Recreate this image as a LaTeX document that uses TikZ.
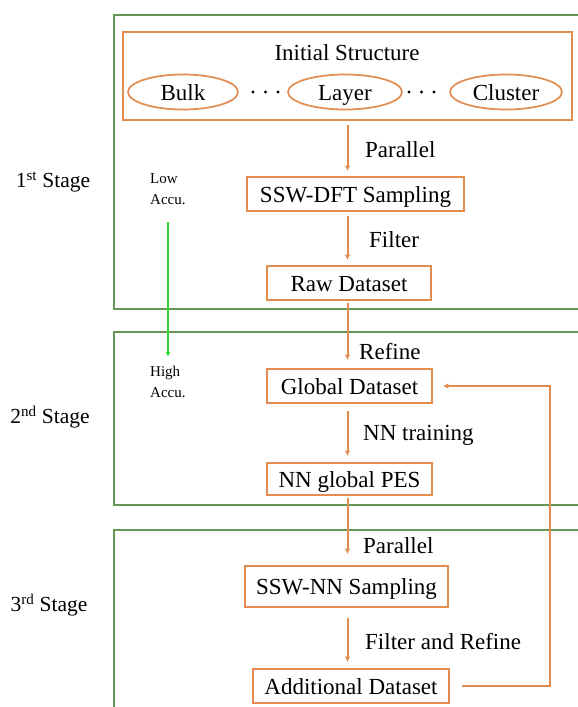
\documentclass[tikz,border=0pt]{standalone}
\usepackage{fontspec}
\setmainfont{Liberation Serif}
\usetikzlibrary{shapes.geometric,arrows.meta}
\definecolor{ocol}{RGB}{226,140,80}
\definecolor{gframe}{RGB}{104,150,84}
\definecolor{garrow}{RGB}{50,215,50}
\tikzset{
  obox/.style={draw=ocol, line width=1.7pt, inner sep=0pt, text height=16pt, text depth=0pt,
    font=\fontsize{23}{27}\selectfont},
  oell/.style={obox, ellipse, minimum height=35pt},
  oarr/.style={draw=ocol, line width=2pt, -{Latex[length=5.5pt,width=5.5pt]}, shorten <=4pt, shorten >=5pt},
  flabel/.style={anchor=base west, inner sep=0pt, font=\fontsize{23}{27}\selectfont},
  stagelbl/.style={inner sep=0pt, font=\fontsize{21.5}{26}\selectfont},
  accu/.style={inner sep=0pt, align=left, font=\fontsize{15}{21}\selectfont},
  gframe/.style={draw=gframe, line width=2pt},
  dots/.style={fill=black, circle, inner sep=0pt, minimum size=3.2pt}
}
\begin{document}
\begin{tikzpicture}[x=1pt,y=-1pt]
\useasboundingbox (0,0) rectangle (578,707);
\clip (0,0) rectangle (578,707);
\fill[white] (0,0) rectangle (578,707);

% stage frames
\draw[gframe] (114,15) rectangle (600,309);
\draw[gframe] (114,332) rectangle (600,505);
\draw[gframe] (114,530) rectangle (600,730);

% stage labels
\node[stagelbl] (s1) at (53,182) {1\textsuperscript{st} Stage};
\node[stagelbl] (s2) at (50,417) {2\textsuperscript{nd} Stage};
\node[stagelbl] (s3) at (49,605) {3\textsuperscript{rd} Stage};

% initial structure
\node[obox, minimum width=449pt, minimum height=88pt] (init) at (347.5,76) {};
\node[flabel, anchor=base] (inittitle) at (347,60) {Initial Structure};
\node[oell, minimum width=110pt] (bulk) at (183,92) {Bulk};
\node[oell, minimum width=114pt] (layer) at (345,92) {Layer};
\node[oell, minimum width=112pt] (cluster) at (506,92) {Cluster};
\foreach \dx/\nm in {253/d1,265.5/d2,278/d3,409/d4,421.5/d5,434/d6}
  \node[dots] (\nm) at (\dx,92) {};

% boxes
\node[obox, minimum width=217pt, minimum height=34pt] (sswd) at (355.5,194) {SSW-DFT Sampling};
\node[obox, minimum width=164pt, minimum height=34pt] (raw) at (349,283) {Raw Dataset};
\node[obox, minimum width=165pt, minimum height=34pt] (glob) at (349.5,386) {Global Dataset};
\node[obox, minimum width=165pt, minimum height=32pt] (pes) at (349.5,479) {NN global PES};
\node[obox, minimum width=203pt, minimum height=41pt] (sswn) at (346.5,586.5) {SSW-NN Sampling};
\node[obox, minimum width=196pt, minimum height=34pt] (add) at (351,686) {Additional Dataset};

% spine
\coordinate (spine) at (347.5,0);
\coordinate (fb) at (550,0);

\draw[oarr] (init.south -| spine) -- (sswd.north -| spine);
\draw[oarr] (sswd.south -| spine) -- (raw.north -| spine);
\draw[oarr, shorten <=2pt, shorten >=8pt] (raw.south -| spine) -- (glob.north -| spine);
\draw[oarr, shorten <=7pt, shorten >=6pt] (glob.south -| spine) -- (pes.north -| spine);
\draw[oarr, shorten <=2pt, shorten >=11pt] (pes.south -| spine) -- (sswn.north -| spine);
\draw[oarr, shorten <=10pt, shorten >=6pt] (sswn.south -| spine) -- (add.north -| spine);
\draw[oarr, shorten <=12pt, shorten >=10pt] (add.east) -| (fb |- glob.east) -- (glob.east);

% arrow labels
\node[flabel] (l1) at (365,157) {Parallel};
\node[flabel] (l2) at (369,247) {Filter};
\node[flabel] (l3) at (359,359) {Refine};
\node[flabel] (l4) at (363,440) {NN training};
\node[flabel] (l5) at (363,553) {Parallel};
\node[flabel] (l6) at (365,649) {Filter and Refine};

% accuracy
\node[accu, anchor=north west] (low) at (150,173) {Low\\Accu.};
\node[accu, anchor=north west] (high) at (150,366) {High\\Accu.};
\coordinate (ga) at (168,222);
\coordinate (gb) at (168,357);
\draw[garrow, line width=1.8pt, -{Latex[length=5pt,width=5pt]}] (ga) -- (gb);
\end{tikzpicture}
\end{document}
